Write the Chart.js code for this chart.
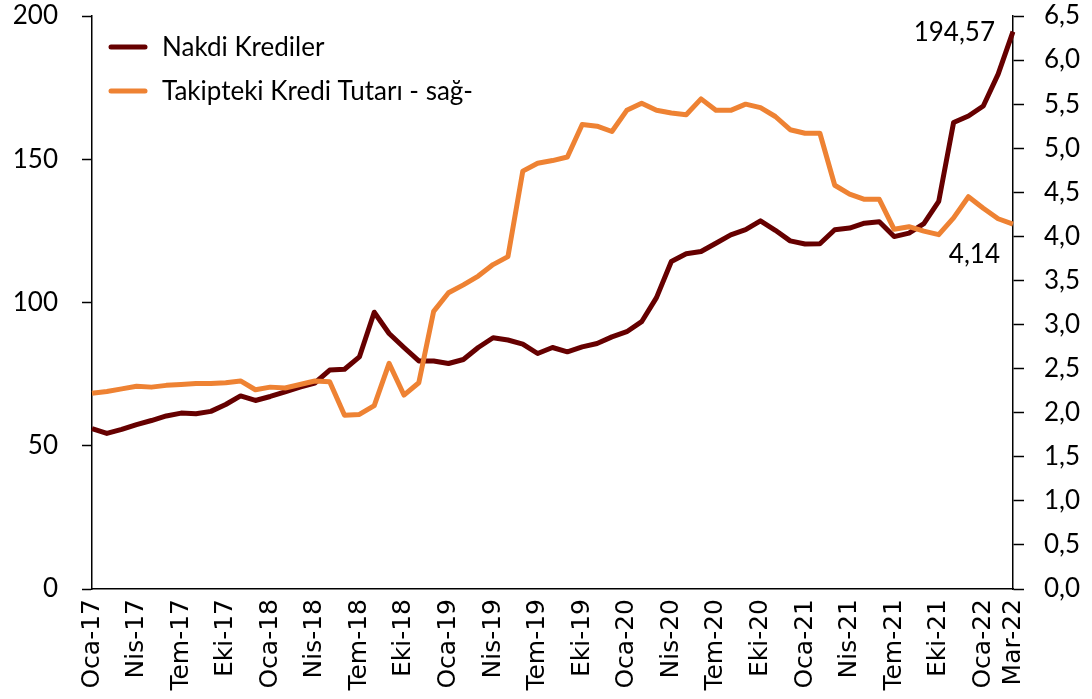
<!DOCTYPE html>
<html>
<head>
<meta charset="utf-8">
<script src="https://cdn.jsdelivr.net/npm/chart.js@4.4.1/dist/chart.umd.min.js"></script>
<style>
  html, body { margin: 0; padding: 0; background: #fff; }
  #wrap { width: 1092px; height: 699px; position: relative; }
</style>
</head>
<body>
<div id="wrap"><canvas id="chart"></canvas></div>
<script>
const months = [
  "Oca-17","Şub-17","Mar-17","Nis-17","May-17","Haz-17","Tem-17","Ağu-17","Eyl-17","Eki-17","Kas-17","Ara-17",
  "Oca-18","Şub-18","Mar-18","Nis-18","May-18","Haz-18","Tem-18","Ağu-18","Eyl-18","Eki-18","Kas-18","Ara-18",
  "Oca-19","Şub-19","Mar-19","Nis-19","May-19","Haz-19","Tem-19","Ağu-19","Eyl-19","Eki-19","Kas-19","Ara-19",
  "Oca-20","Şub-20","Mar-20","Nis-20","May-20","Haz-20","Tem-20","Ağu-20","Eyl-20","Eki-20","Kas-20","Ara-20",
  "Oca-21","Şub-21","Mar-21","Nis-21","May-21","Haz-21","Tem-21","Ağu-21","Eyl-21","Eki-21","Kas-21","Ara-21",
  "Oca-22","Şub-22","Mar-22"
];

// Nakdi Krediler (left axis)
const nakdiKrediler = [
  56.0, 54.3, 55.7, 57.4, 58.8, 60.4, 61.4, 61.2, 62.0, 64.4, 67.4, 65.8,
  67.2, 68.8, 70.5, 71.9, 76.4, 76.7, 81.0, 96.6, 89.2, 84.3, 79.6, 79.6,
  78.7, 80.1, 84.3, 87.7, 86.9, 85.5, 82.2, 84.3, 82.8, 84.5, 85.7, 88.0,
  89.8, 93.3, 101.7, 114.3, 117.0, 117.8, 120.7, 123.6, 125.4, 128.5, 125.2, 121.5,
  120.4, 120.5, 125.4, 126.0, 127.7, 128.2, 123.0, 124.2, 127.5, 135.3, 162.8, 165.1,
  168.6, 179.7, 194.57
];

// Takipteki Kredi Tutarı (right axis)
const takipteki = [
  2.22, 2.24, 2.27, 2.30, 2.29, 2.31, 2.32, 2.33, 2.33, 2.34, 2.36, 2.26,
  2.29, 2.28, 2.32, 2.36, 2.35, 1.97, 1.98, 2.08, 2.56, 2.20, 2.34, 3.15,
  3.36, 3.45, 3.55, 3.68, 3.77, 4.74, 4.83, 4.86, 4.90, 5.27, 5.25, 5.19,
  5.43, 5.51, 5.43, 5.40, 5.38, 5.56, 5.43, 5.43, 5.50, 5.46, 5.36, 5.21,
  5.17, 5.17, 4.58, 4.48, 4.42, 4.42, 4.08, 4.11, 4.06, 4.02, 4.21, 4.45,
  4.32, 4.20, 4.14
];

const seriesNames = ["Nakdi Krediler", "Takipteki Kredi Tutarı - sağ-"];
const seriesColors = ["#660000", "#EE8233"];

const tickFont = { family: "Lato", size: 26 };
const xFont = { family: "DejaVu Sans", size: 25 };

// y axes: keep fixed widths, and stop tick padding from pushing the plot top down
const fixY = w => s => { s.width = w; s.paddingTop = 16; s.paddingBottom = 0; };

// legend inside plot + end labels
const overlay = {
  id: "overlay",
  afterDraw(c) {
    const ctx = c.ctx;
    ctx.save();
    ctx.font = "26px Lato";
    ctx.fillStyle = "#000";
    ctx.textBaseline = "middle";
    const rows = [47, 91];
    seriesNames.forEach((name, i) => {
      ctx.strokeStyle = seriesColors[i];
      ctx.lineWidth = 5;
      ctx.lineCap = "round";
      ctx.beginPath();
      ctx.moveTo(111, rows[i]);
      ctx.lineTo(145, rows[i]);
      ctx.stroke();
      ctx.fillText(name, 162, rows[i] + 1);
    });

    const last = months.length - 1;
    const p0 = c.getDatasetMeta(0).data[last];
    const p1 = c.getDatasetMeta(1).data[last];
    ctx.textAlign = "right";
    ctx.fillText(nakdiKrediler[last].toFixed(2).replace(".", ","), p0.x - 18, p0.y + 1);
    ctx.fillText(takipteki[last].toFixed(2).replace(".", ","), p1.x - 13, p1.y + 31);
    ctx.restore();
  }
};

new Chart(document.getElementById("chart"), {
  type: "line",
  data: {
    labels: months,
    datasets: [
      {
        label: seriesNames[0],
        data: nakdiKrediler,
        yAxisID: "y",
        borderColor: seriesColors[0],
        borderWidth: 5,
        pointRadius: 0,
        tension: 0,
        borderJoinStyle: "round",
        order: 1
      },
      {
        label: seriesNames[1],
        data: takipteki,
        yAxisID: "y1",
        borderColor: seriesColors[1],
        borderWidth: 5,
        pointRadius: 0,
        tension: 0,
        borderJoinStyle: "round",
        order: 0
      }
    ]
  },
  options: {
    responsive: true,
    maintainAspectRatio: false,
    animation: false,
    layout: { padding: 0 },
    plugins: { legend: { display: false }, tooltip: { enabled: false } },
    scales: {
      x: {
        grid: { display: false, drawTicks: false },
        border: { color: "#000", width: 1.5 },
        afterFit: s => { s.height = 110; },
        ticks: {
          autoSkip: false,
          minRotation: 90,
          maxRotation: 90,
          padding: 10,
          color: "#000",
          font: xFont,
          callback: (v, i) => (i % 3 === 0 || i === months.length - 1) ? months[i] : null
        }
      },
      y: {
        position: "left",
        min: 0,
        max: 200,
        afterFit: fixY(92),
        grid: { drawOnChartArea: false, tickLength: 10, color: "#000", tickWidth: 1.5 },
        border: { color: "#000", width: 1.5 },
        ticks: { stepSize: 50, padding: 24, color: "#000", font: tickFont }
      },
      y1: {
        position: "right",
        min: 0,
        max: 6.5,
        afterFit: fixY(79),
        grid: { drawOnChartArea: false, tickLength: 11, color: "#000", tickWidth: 1.5 },
        border: { color: "#000", width: 1.5 },
        ticks: {
          stepSize: 0.5,
          padding: 20,
          color: "#000",
          font: tickFont,
          callback: v => v.toFixed(1).replace(".", ",")
        }
      }
    }
  },
  plugins: [overlay]
});
</script>
</body>
</html>
